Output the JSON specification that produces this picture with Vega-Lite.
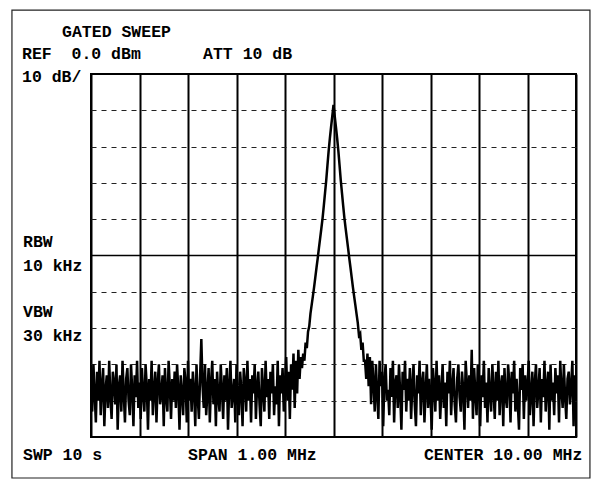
{
  "$schema": "https://vega.github.io/schema/vega-lite/v6.json",
  "width": 485,
  "height": 363,
  "autosize": {"type": "none"},
  "padding": {"left": 91, "top": 74, "right": 24, "bottom": 42},
  "background": "white",
  "config": {"view": {"stroke": "black", "strokeWidth": 2}},
  "datasets": {
    "trace": [
      {"i":0,"v":-84},{"i":1,"v":-93},{"i":2,"v":-80},{"i":3,"v":-88},{"i":4,"v":-96},{"i":5,"v":-82},{"i":6,"v":-90},{"i":7,"v":-79},{"i":8,"v":-94},{"i":9,"v":-86},
      {"i":10,"v":-81},{"i":11,"v":-97},{"i":12,"v":-87},{"i":13,"v":-83},{"i":14,"v":-92},{"i":15,"v":-79},{"i":16,"v":-89},{"i":17,"v":-95},{"i":18,"v":-82},{"i":19,"v":-85},
      {"i":20,"v":-91},{"i":21,"v":-80},{"i":22,"v":-98},{"i":23,"v":-86},{"i":24,"v":-83},{"i":25,"v":-93},{"i":26,"v":-79},{"i":27,"v":-88},{"i":28,"v":-96},{"i":29,"v":-84},
      {"i":30,"v":-81},{"i":31,"v":-90},{"i":32,"v":-94},{"i":33,"v":-80},{"i":34,"v":-87},{"i":35,"v":-97},{"i":36,"v":-83},{"i":37,"v":-89},{"i":38,"v":-79},{"i":39,"v":-92},
      {"i":40,"v":-85},{"i":41,"v":-95},{"i":42,"v":-81},{"i":43,"v":-88},{"i":44,"v":-93},{"i":45,"v":-80},{"i":46,"v":-86},{"i":47,"v":-98},{"i":48,"v":-84},{"i":49,"v":-90},
      {"i":50,"v":-79},{"i":51,"v":-94},{"i":52,"v":-87},{"i":53,"v":-82},{"i":54,"v":-96},{"i":55,"v":-85},{"i":56,"v":-80},{"i":57,"v":-91},{"i":58,"v":-88},{"i":59,"v":-83},
      {"i":60,"v":-97},{"i":61,"v":-81},{"i":62,"v":-89},{"i":63,"v":-93},{"i":64,"v":-79},{"i":65,"v":-86},{"i":66,"v":-95},{"i":67,"v":-84},{"i":68,"v":-90},{"i":69,"v":-82},
      {"i":70,"v":-92},{"i":71,"v":-80},{"i":72,"v":-87},{"i":73,"v":-98},{"i":74,"v":-83},{"i":75,"v":-88},{"i":76,"v":-94},{"i":77,"v":-81},{"i":78,"v":-85},{"i":79,"v":-96},
      {"i":80,"v":-79},{"i":81,"v":-90},{"i":82,"v":-84},{"i":83,"v":-93},{"i":84,"v":-82},{"i":85,"v":-87},{"i":86,"v":-97},{"i":87,"v":-80},{"i":88,"v":-89},{"i":89,"v":-95},
      {"i":90,"v":-83},{"i":91,"v":-73},{"i":92,"v":-86},{"i":93,"v":-92},{"i":94,"v":-80},{"i":95,"v":-94},{"i":96,"v":-88},{"i":97,"v":-81},{"i":98,"v":-96},{"i":99,"v":-85},
      {"i":100,"v":-79},{"i":101,"v":-91},{"i":102,"v":-84},{"i":103,"v":-97},{"i":104,"v":-82},{"i":105,"v":-89},{"i":106,"v":-93},{"i":107,"v":-80},{"i":108,"v":-87},{"i":109,"v":-95},
      {"i":110,"v":-83},{"i":111,"v":-90},{"i":112,"v":-81},{"i":113,"v":-98},{"i":114,"v":-86},{"i":115,"v":-79},{"i":116,"v":-92},{"i":117,"v":-88},{"i":118,"v":-84},{"i":119,"v":-96},
      {"i":120,"v":-80},{"i":121,"v":-89},{"i":122,"v":-94},{"i":123,"v":-82},{"i":124,"v":-87},{"i":125,"v":-97},{"i":126,"v":-81},{"i":127,"v":-85},{"i":128,"v":-93},{"i":129,"v":-79},
      {"i":130,"v":-90},{"i":131,"v":-84},{"i":132,"v":-96},{"i":133,"v":-83},{"i":134,"v":-88},{"i":135,"v":-80},{"i":136,"v":-95},{"i":137,"v":-86},{"i":138,"v":-82},{"i":139,"v":-91},
      {"i":140,"v":-97},{"i":141,"v":-81},{"i":142,"v":-87},{"i":143,"v":-93},{"i":144,"v":-79},{"i":145,"v":-89},{"i":146,"v":-84},{"i":147,"v":-95},{"i":148,"v":-82},{"i":149,"v":-88},
      {"i":150,"v":-80},{"i":151,"v":-94},{"i":152,"v":-86},{"i":153,"v":-91},{"i":154,"v":-79},{"i":155,"v":-97},{"i":156,"v":-83},{"i":157,"v":-88},{"i":158,"v":-81},{"i":159,"v":-93},
      {"i":160,"v":-85},{"i":161,"v":-78},{"i":162,"v":-90},{"i":163,"v":-82},{"i":164,"v":-95},{"i":165,"v":-80},{"i":166,"v":-87},{"i":167,"v":-77},{"i":168,"v":-92},{"i":169,"v":-79},
      {"i":170,"v":-88},{"i":171,"v":-76},{"i":172,"v":-84},{"i":173,"v":-78},
      {"i":174,"v":-81},{"i":175,"v":-77},{"i":176,"v":-79},{"i":177,"v":-74},{"i":178,"v":-75.5},{"i":179,"v":-71},{"i":180,"v":-69.5},{"i":181,"v":-66},{"i":182,"v":-63.6},{"i":183,"v":-61.2},
      {"i":184,"v":-58.7},{"i":185,"v":-56},{"i":186,"v":-53.3},{"i":187,"v":-50.7},{"i":188,"v":-47.9},{"i":189,"v":-45.2},{"i":190,"v":-42.5},{"i":191,"v":-39.7},{"i":192,"v":-36.3},{"i":193,"v":-32.8},
      {"i":194,"v":-29.3},{"i":195,"v":-25.2},{"i":196,"v":-21.2},{"i":197,"v":-17.7},{"i":198,"v":-14.6},{"i":199,"v":-11.6},{"i":200,"v":-8.5},
      {"i":201,"v":-11.6},{"i":202,"v":-14.6},{"i":203,"v":-17.7},{"i":204,"v":-21.2},{"i":205,"v":-25.2},{"i":206,"v":-29.3},{"i":207,"v":-32.8},{"i":208,"v":-36.3},{"i":209,"v":-39.7},{"i":210,"v":-42.5},
      {"i":211,"v":-45.2},{"i":212,"v":-47.9},{"i":213,"v":-50.7},{"i":214,"v":-53.3},{"i":215,"v":-56},{"i":216,"v":-58.7},{"i":217,"v":-61.2},{"i":218,"v":-63.6},{"i":219,"v":-66.1},{"i":220,"v":-68.5},
      {"i":221,"v":-72},{"i":222,"v":-71.5},{"i":223,"v":-76},{"i":224,"v":-74},{"i":225,"v":-79},
      {"i":226,"v":-79},{"i":227,"v":-84},{"i":228,"v":-77},{"i":229,"v":-86},{"i":230,"v":-78},{"i":231,"v":-91},{"i":232,"v":-79},{"i":233,"v":-85},{"i":234,"v":-93},{"i":235,"v":-80},
      {"i":236,"v":-88},{"i":237,"v":-95},{"i":238,"v":-79},{"i":239,"v":-86},{"i":240,"v":-82},{"i":241,"v":-97},{"i":242,"v":-84},{"i":243,"v":-80},{"i":244,"v":-90},{"i":245,"v":-87},
      {"i":246,"v":-94},{"i":247,"v":-81},{"i":248,"v":-89},{"i":249,"v":-79},{"i":250,"v":-96},{"i":251,"v":-85},{"i":252,"v":-83},{"i":253,"v":-92},{"i":254,"v":-80},{"i":255,"v":-88},
      {"i":256,"v":-98},{"i":257,"v":-82},{"i":258,"v":-87},{"i":259,"v":-79},{"i":260,"v":-93},{"i":261,"v":-84},{"i":262,"v":-90},{"i":263,"v":-81},{"i":264,"v":-95},{"i":265,"v":-86},
      {"i":266,"v":-80},{"i":267,"v":-91},{"i":268,"v":-97},{"i":269,"v":-83},{"i":270,"v":-88},{"i":271,"v":-79},{"i":272,"v":-94},{"i":273,"v":-85},{"i":274,"v":-82},{"i":275,"v":-96},
      {"i":276,"v":-87},{"i":277,"v":-80},{"i":278,"v":-92},{"i":279,"v":-84},{"i":280,"v":-89},{"i":281,"v":-98},{"i":282,"v":-81},{"i":283,"v":-86},{"i":284,"v":-93},{"i":285,"v":-79},
      {"i":286,"v":-90},{"i":287,"v":-83},{"i":288,"v":-95},{"i":289,"v":-87},{"i":290,"v":-80},{"i":291,"v":-92},{"i":292,"v":-85},{"i":293,"v":-97},{"i":294,"v":-82},{"i":295,"v":-88},
      {"i":296,"v":-79},{"i":297,"v":-94},{"i":298,"v":-86},{"i":299,"v":-81},{"i":300,"v":-91},{"i":301,"v":-96},{"i":302,"v":-84},{"i":303,"v":-80},{"i":304,"v":-89},{"i":305,"v":-93},
      {"i":306,"v":-82},{"i":307,"v":-87},{"i":308,"v":-98},{"i":309,"v":-79},{"i":310,"v":-85},{"i":311,"v":-92},{"i":312,"v":-83},{"i":313,"v":-90},{"i":314,"v":-76},{"i":315,"v":-95},
      {"i":316,"v":-81},{"i":317,"v":-88},{"i":318,"v":-94},{"i":319,"v":-80},{"i":320,"v":-86},{"i":321,"v":-97},{"i":322,"v":-83},{"i":323,"v":-89},{"i":324,"v":-79},{"i":325,"v":-92},
      {"i":326,"v":-85},{"i":327,"v":-96},{"i":328,"v":-81},{"i":329,"v":-88},{"i":330,"v":-93},{"i":331,"v":-80},{"i":332,"v":-87},{"i":333,"v":-95},{"i":334,"v":-82},{"i":335,"v":-90},
      {"i":336,"v":-79},{"i":337,"v":-94},{"i":338,"v":-86},{"i":339,"v":-83},{"i":340,"v":-97},{"i":341,"v":-81},{"i":342,"v":-89},{"i":343,"v":-92},{"i":344,"v":-80},{"i":345,"v":-85},
      {"i":346,"v":-96},{"i":347,"v":-82},{"i":348,"v":-88},{"i":349,"v":-79},{"i":350,"v":-93},{"i":351,"v":-84},{"i":352,"v":-91},{"i":353,"v":-98},{"i":354,"v":-81},{"i":355,"v":-87},
      {"i":356,"v":-80},{"i":357,"v":-95},{"i":358,"v":-83},{"i":359,"v":-90},{"i":360,"v":-86},{"i":361,"v":-79},{"i":362,"v":-94},{"i":363,"v":-88},{"i":364,"v":-82},{"i":365,"v":-97},
      {"i":366,"v":-85},{"i":367,"v":-80},{"i":368,"v":-92},{"i":369,"v":-87},{"i":370,"v":-81},{"i":371,"v":-96},{"i":372,"v":-84},{"i":373,"v":-89},{"i":374,"v":-79},{"i":375,"v":-93},
      {"i":376,"v":-86},{"i":377,"v":-82},{"i":378,"v":-98},{"i":379,"v":-80},{"i":380,"v":-90},{"i":381,"v":-85},{"i":382,"v":-94},{"i":383,"v":-81},{"i":384,"v":-88},{"i":385,"v":-83},
      {"i":386,"v":-96},{"i":387,"v":-79},{"i":388,"v":-87},{"i":389,"v":-92},{"i":390,"v":-80},{"i":391,"v":-89},{"i":392,"v":-95},{"i":393,"v":-84},{"i":394,"v":-82},{"i":395,"v":-91},
      {"i":396,"v":-86},{"i":397,"v":-79},{"i":398,"v":-97},{"i":399,"v":-83},{"i":400,"v":-88}
    ],
    "labels": [
      {"label": "GATED SWEEP", "i": -23.9, "v": 10.2},
      {"label": "REF\u00a0 0.0 dBm", "i": -56.9, "v": 4.1},
      {"label": "ATT 10 dB", "i": 92.4, "v": 4.1},
      {"label": "10 dB/", "i": -56.9, "v": -2.2},
      {"label": "RBW", "i": -56.1, "v": -47.7},
      {"label": "10 kHz", "i": -56.1, "v": -54.3},
      {"label": "VBW", "i": -56.1, "v": -66.9},
      {"label": "30 kHz", "i": -56.1, "v": -73.6},
      {"label": "SWP 10 s", "i": -56.1, "v": -106.2},
      {"label": "SPAN 1.00 MHz", "i": 80, "v": -106.2},
      {"label": "CENTER 10.00 MHz", "i": 274.6, "v": -106.2}
    ]
  },
  "layer": [
    {
      "data": {"name": "trace"},
      "mark": {"type": "line", "color": "black", "strokeWidth": 2.5, "clip": true},
      "encoding": {
        "x": {
          "field": "i", "type": "quantitative",
          "scale": {"domain": [0, 400], "nice": false, "zero": false},
          "axis": {"values": [0, 40, 80, 120, 160, 200, 240, 280, 320, 360, 400], "grid": true, "gridColor": "black", "gridWidth": 2, "gridOpacity": 1, "labels": false, "ticks": false, "domain": false, "title": null}
        },
        "y": {
          "field": "v", "type": "quantitative",
          "scale": {"domain": [-100, 0], "nice": false, "zero": false},
          "axis": {"values": [-10, -20, -30, -40, -60, -70, -80, -90], "grid": true, "gridColor": "#222222", "gridWidth": 1, "gridDash": [5, 5], "gridOpacity": 1, "labels": false, "ticks": false, "domain": false, "title": null}
        }
      }
    },
    {
      "data": {"values": [{}]},
      "mark": {"type": "rule", "color": "black", "strokeWidth": 1.5},
      "encoding": {"y": {"datum": -50}}
    },
    {
      "data": {"name": "labels"},
      "mark": {"type": "text", "font": "Liberation Mono", "fontWeight": "bold", "fontSize": 16.5, "align": "left", "baseline": "alphabetic", "color": "black"},
      "encoding": {
        "x": {"field": "i", "type": "quantitative"},
        "y": {"field": "v", "type": "quantitative"},
        "text": {"field": "label"}
      }
    },
    {
      "data": {"values": [{}]},
      "mark": {"type": "rect", "fillOpacity": 0, "stroke": "#222222", "strokeWidth": 1.2},
      "encoding": {
        "x": {"datum": -65.2},
        "x2": {"datum": 411.5},
        "y": {"datum": 17.6},
        "y2": {"datum": -111.3}
      }
    }
  ]
}
